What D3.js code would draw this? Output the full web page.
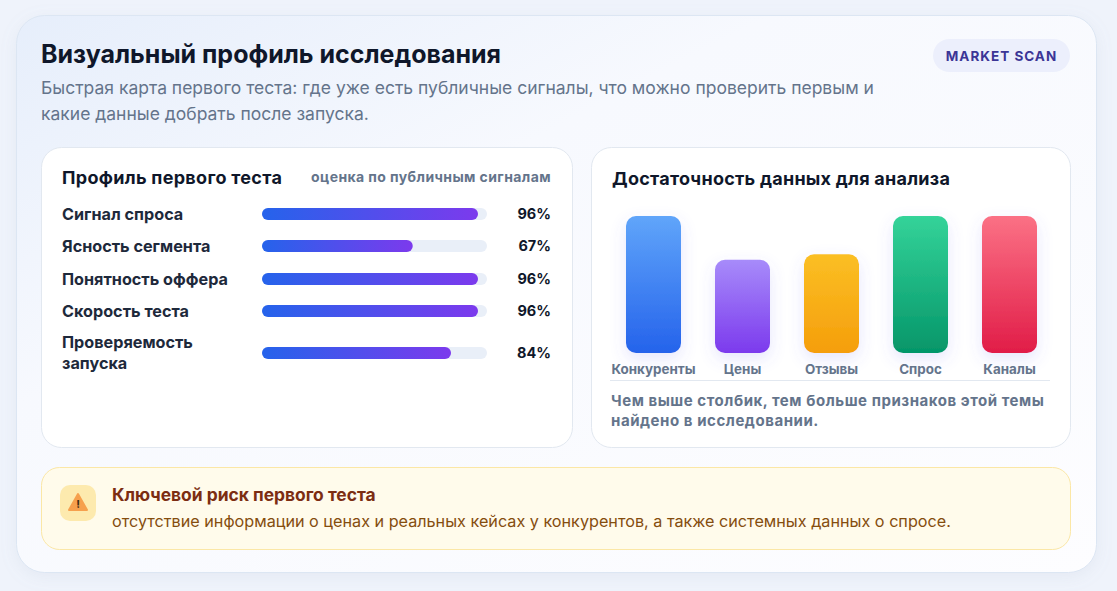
<html>
<head>
<meta charset="utf-8">
<style>
  body { margin: 0; background: #f1f5fb; }
  svg { display: block; font-family: Inter, "Noto Sans", sans-serif; }
</style>
</head>
<body>
<svg id="svg" width="1117" height="591"></svg>
<script src="https://cdn.jsdelivr.net/npm/d3@7"></script>
<script>
// data
const profileLabels = [["Сигнал спроса"], ["Ясность сегмента"], ["Понятность оффера"], ["Скорость теста"], ["Проверяемость", "запуска"]];
const profileValues = [96, 67, 96, 96, 84];
const topicNames = ["Конкуренты", "Цены", "Отзывы", "Спрос", "Каналы"];
const topicValues = [100, 68, 72, 100, 100];
const topicColors = [["#60a5fa", "#2563eb"], ["#a78bfa", "#7c3aed"], ["#fbbf24", "#f59e0b"], ["#34d399", "#059669"], ["#fb7185", "#e11d48"]];

const svg = d3.select("#svg");
const defs = svg.append("defs");

// page & outer card
const bg = defs.append("linearGradient").attr("id", "cardbg").attr("x1", 0).attr("y1", 0).attr("x2", 1).attr("y2", 1);
bg.append("stop").attr("offset", "0%").attr("stop-color", "#e6eefb");
bg.append("stop").attr("offset", "35%").attr("stop-color", "#f7f9fe");
bg.append("stop").attr("offset", "100%").attr("stop-color", "#fdfdff");

const sh = defs.append("filter").attr("id", "soft").attr("x", "-20%").attr("y", "-20%").attr("width", "140%").attr("height", "140%");
sh.append("feDropShadow").attr("dx", 0).attr("dy", 4).attr("stdDeviation", 8).attr("flood-color", "#94a3b8").attr("flood-opacity", 0.12);

const glow = defs.append("filter").attr("id", "glow").attr("x", "-50%").attr("y", "-30%").attr("width", "200%").attr("height", "160%");
glow.append("feDropShadow").attr("dx", 0).attr("dy", 6).attr("stdDeviation", 8).attr("flood-color", "#6366f1").attr("flood-opacity", 0.16);

svg.append("rect").attr("width", 1117).attr("height", 591).attr("fill", "#eff3fb");
svg.append("rect").attr("x", 16.5).attr("y", 15.5).attr("width", 1080).attr("height", 557).attr("rx", 28)
  .attr("fill", "url(#cardbg)").attr("stroke", "#dce6f3").attr("filter", "url(#soft)");

// header
svg.append("text").attr("x", 41).attr("y", 63).attr("font-size", 25).attr("font-weight", 700).attr("fill", "#0f172a")
  .text("Визуальный профиль исследования");
const sub = svg.append("text").attr("font-size", 17.5).attr("fill", "#64748b");
sub.append("tspan").attr("x", 41).attr("y", 94).text("Быстрая карта первого теста: где уже есть публичные сигналы, что можно проверить первым и");
sub.append("tspan").attr("x", 41).attr("y", 120).text("какие данные добрать после запуска.");

svg.append("rect").attr("x", 933).attr("y", 39).attr("width", 137).attr("height", 33).attr("rx", 16.5).attr("fill", "#eceffc");
svg.append("text").attr("x", 1001.5).attr("y", 60.5).attr("text-anchor", "middle").attr("font-size", 13.5).attr("font-weight", 700)
  .attr("letter-spacing", 1).attr("fill", "#3b3596").text("MARKET SCAN");

// panels
svg.append("rect").attr("x", 41.5).attr("y", 147.5).attr("width", 531).attr("height", 300).attr("rx", 20).attr("fill", "#fff").attr("stroke", "#e2e8f0");
svg.append("rect").attr("x", 591.5).attr("y", 147.5).attr("width", 479).attr("height", 300).attr("rx", 20).attr("fill", "#fff").attr("stroke", "#e2e8f0");

// left panel: profile bars
const left = svg.append("g");
left.append("text").attr("x", 62).attr("y", 184).attr("font-size", 18).attr("font-weight", 700).attr("letter-spacing", 0.3)
  .attr("fill", "#0f172a").text("Профиль первого теста");
left.append("text").attr("x", 551).attr("y", 182).attr("text-anchor", "end").attr("font-size", 14).attr("font-weight", 700)
  .attr("letter-spacing", 0.4).attr("fill", "#64748b").text("оценка по публичным сигналам");

const pg = defs.append("linearGradient").attr("id", "pfill");
pg.append("stop").attr("offset", "0%").attr("stop-color", "#2563eb");
pg.append("stop").attr("offset", "100%").attr("stop-color", "#7c3aed");

const x = d3.scaleLinear().domain([0, 100]).range([262, 487]);
const rowY = d3.scaleOrdinal().domain(d3.range(5)).range([214, 246, 279, 311, 353]);
const barH = 12;

const rows = left.selectAll("g.row").data(profileValues).join("g").attr("class", "row")
  .attr("transform", (d, i) => "translate(0," + rowY(i) + ")");
rows.append("rect").attr("x", x(0)).attr("y", -barH / 2).attr("width", x(100) - x(0)).attr("height", barH).attr("rx", barH / 2).attr("fill", "#e9eff8");
rows.append("rect").attr("x", x(0)).attr("y", -barH / 2).attr("height", barH).attr("rx", barH / 2)
  .attr("width", d => x(d) - x(0)).attr("fill", "url(#pfill)");
rows.append("text").attr("x", 551).attr("y", 5).attr("text-anchor", "end").attr("font-size", 14.5).attr("font-weight", 700).attr("fill", "#0f172a")
  .text(d => d + "%");
rows.append("text").attr("font-size", 16.2).attr("font-weight", 650).attr("fill", "#1e293b")
  .each(function (d, i) {
    const lines = profileLabels[i];
    const t = d3.select(this);
    lines.forEach((s, j) => {
      t.append("tspan").attr("x", 62).attr("y", 5.5 + (j - (lines.length - 1) / 2) * 21).text(s);
    });
  });

// right panel: column chart
const right = svg.append("g");
right.append("text").attr("x", 612).attr("y", 185).attr("font-size", 18).attr("font-weight", 700).attr("letter-spacing", 0.25)
  .attr("fill", "#0f172a").text("Достаточность данных для анализа");

const xb = d3.scaleBand().domain(topicNames).range([609, 1054]).paddingInner(0.382).paddingOuter(0.191);
const yb = d3.scaleLinear().domain([0, 100]).range([353, 216]);

topicNames.forEach((n, i) => {
  const g = defs.append("linearGradient").attr("id", "col" + i).attr("x1", 0).attr("y1", 0).attr("x2", 0).attr("y2", 1);
  g.append("stop").attr("offset", "0%").attr("stop-color", topicColors[i][0]);
  g.append("stop").attr("offset", "100%").attr("stop-color", topicColors[i][1]);
});

right.selectAll("rect.col").data(topicValues).join("rect").attr("class", "col")
  .attr("x", (d, i) => xb(topicNames[i])).attr("y", d => yb(d))
  .attr("width", xb.bandwidth()).attr("height", d => yb(0) - yb(d)).attr("rx", 10)
  .attr("fill", (d, i) => "url(#col" + i + ")").attr("filter", "url(#glow)");

right.selectAll("text.cat").data(topicNames).join("text").attr("class", "cat")
  .attr("x", d => xb(d) + xb.bandwidth() / 2).attr("y", 374).attr("text-anchor", "middle")
  .attr("font-size", 13.4).attr("font-weight", 700).attr("fill", "#64748b").text(d => d);

right.append("line").attr("x1", 610).attr("x2", 1050).attr("y1", 380.5).attr("y2", 380.5).attr("stroke", "#e2e8f0");
const note = right.append("text").attr("font-size", 15).attr("font-weight", 700).attr("letter-spacing", 0.55).attr("fill", "#64748b");
note.append("tspan").attr("x", 611).attr("y", 406).text("Чем выше столбик, тем больше признаков этой темы");
note.append("tspan").attr("x", 611).attr("y", 425.5).text("найдено в исследовании.");

// risk box
svg.append("rect").attr("x", 41.5).attr("y", 467.5).attr("width", 1029).attr("height", 82).attr("rx", 18)
  .attr("fill", "#fffbeb").attr("stroke", "#fbe7a6");
svg.append("rect").attr("x", 60).attr("y", 485).attr("width", 36).attr("height", 36).attr("rx", 10).attr("fill", "#fdeaae");
svg.append("path").attr("d", "M78,494 L87,510 L69,510 Z").attr("fill", "#f6a04d").attr("stroke", "#f6a04d").attr("stroke-linejoin", "round").attr("stroke-width", 2);
svg.append("text").attr("x", 78).attr("y", 508).attr("text-anchor", "middle").attr("font-size", 11).attr("font-weight", 700).attr("fill", "#3b2a12").text("!");
svg.append("text").attr("x", 112).attr("y", 501).attr("font-size", 17.4).attr("font-weight", 700).attr("fill", "#7c2d12").text("Ключевой риск первого теста");
svg.append("text").attr("x", 112).attr("y", 526.5).attr("font-size", 16.2).attr("fill", "#854d0e")
  .text("отсутствие информации о ценах и реальных кейсах у конкурентов, а также системных данных о спросе.");
</script>
</body>
</html>
